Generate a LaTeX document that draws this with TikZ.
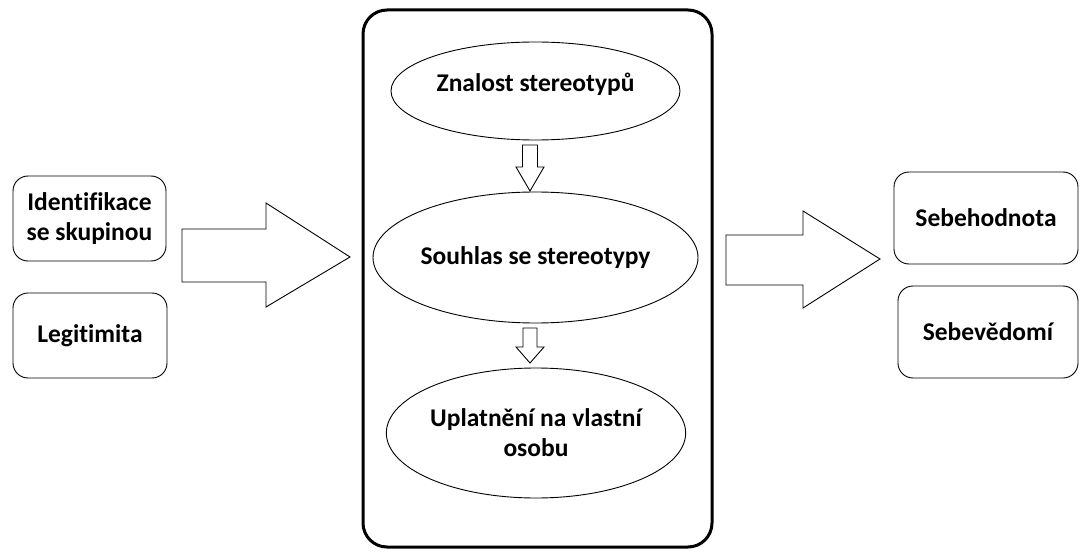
\documentclass[tikz,border=0pt]{standalone}
\usepackage{fontspec}
\setmainfont{Carlito}[Ligatures=NoCommon]
\usetikzlibrary{shapes.geometric}
\tikzset{
  box/.style={draw, rounded corners=15pt, line width=0.9pt, align=center, inner sep=0pt},
  oval/.style={draw, ellipse, line width=0.9pt, align=center, inner sep=0pt},
  blockarrow/.style={draw, line width=0.9pt, fill=white, line join=miter}
}
\begin{document}
\begin{tikzpicture}[x=1pt,y=-1pt,font=\fontsize{25.5}{30}\selectfont\bfseries]
\useasboundingbox (0,0) rectangle (1081,556);
% left inputs
\node[box, minimum width=153pt, minimum height=85pt] (ident) at (89.5,218.5) {Identifikace\\se skupinou};
\node[box, minimum width=154pt, minimum height=85pt] (legit) at (90,335.5) {Legitimita};
% middle frame
\node[draw, rounded corners=24pt, line width=3pt, minimum width=349pt, minimum height=537pt] (frame) at (537.5,278.5) {};
\node[oval, minimum width=289pt, minimum height=98pt] (znal) at (535.5,91) {Znalost stereotypů\\[-12pt]};
\node[oval, minimum width=293pt, minimum height=131pt] (souh) at (535.5,257.5) {Souhlas se stereotypy};
\node[oval, minimum width=294pt, minimum height=130pt] (upl) at (536,433) {Uplatnění na vlastní\\osobu};
% right outputs
\node[box, minimum width=184pt, minimum height=92pt] (hodn) at (986,218) {Sebehodnota};
\node[box, minimum width=180pt, minimum height=92pt] (vedo) at (988,332) {Sebevědomí};
% big arrows
\draw[blockarrow] (182,229)--(266,229)--(266,203)--(350,257)--(266,307)--(266,282)--(182,282)--cycle;
\draw[blockarrow] (726,235)--(803,235)--(803,211)--(880,259)--(803,308)--(803,285)--(726,285)--cycle;
% small arrows
\draw[blockarrow] (522.5,145)--(537.5,145)--(537.5,167)--(544,167)--(530,191)--(516,167)--(522.5,167)--cycle;
\draw[blockarrow] (523,328)--(537,328)--(537,347)--(544,347)--(530,363)--(516,347)--(523,347)--cycle;
\end{tikzpicture}
\end{document}
